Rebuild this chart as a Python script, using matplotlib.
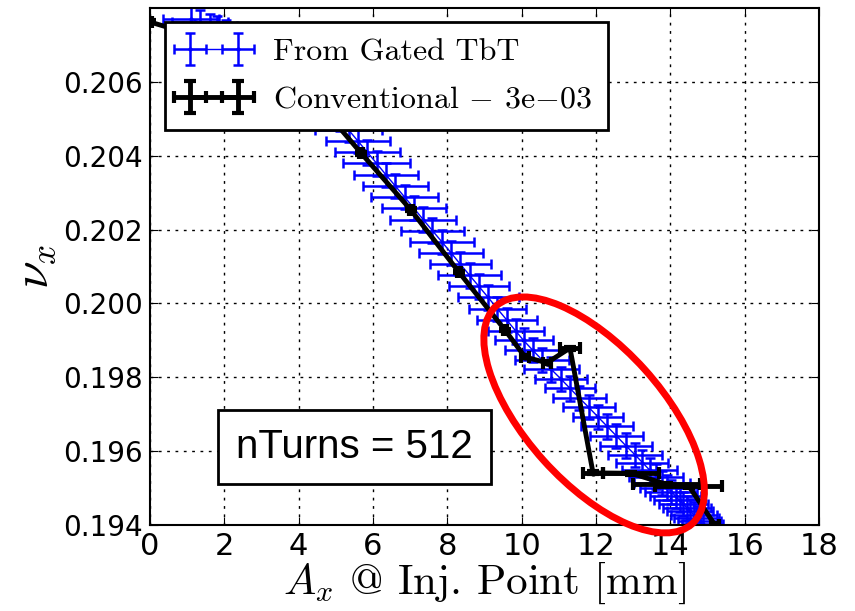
import numpy as np
import matplotlib.pyplot as plt
import matplotlib.transforms as mtransforms
from matplotlib.patches import Ellipse

plt.rcParams['mathtext.fontset'] = 'cm'
plt.rcParams['axes.unicode_minus'] = False

# === Gated TbT tune vs amplitude (blue) ===
gated_x = [1.10, 1.35, 1.62, 1.80, 2.05, 2.30, 2.60, 2.85,
           3.10, 3.35, 3.60, 3.85, 4.10, 4.35, 4.60,
           4.85, 5.10, 5.35, 5.60, 5.85, 6.10, 6.35, 6.60, 6.85, 7.10, 7.35,
           7.60, 7.85, 8.10, 8.35, 8.60, 8.85, 9.10, 9.35, 9.60, 9.85, 10.05,
           10.30, 10.55, 10.80, 11.05, 11.30, 11.55, 11.80, 12.05, 12.30, 12.55,
           12.80, 13.05, 13.25, 13.45, 13.62, 13.78, 13.91,
           14.03, 14.14, 14.25, 14.35, 14.45, 14.54, 14.63, 14.71, 14.79, 14.87]
gated_nu = [0.20770, 0.20761, 0.20751, 0.20744, 0.20735, 0.20726, 0.20715, 0.20706,
            0.20691, 0.20669, 0.20648, 0.20626, 0.20604, 0.20582, 0.20560,
            0.20530, 0.20500, 0.20469, 0.20439, 0.20409, 0.20379, 0.20348, 0.20318, 0.20288, 0.20258, 0.20227,
            0.20197, 0.20167, 0.20137, 0.20106, 0.20076, 0.20046, 0.20016, 0.19985, 0.19955, 0.19924, 0.19900,
            0.19873, 0.19847, 0.19821, 0.19796, 0.19770, 0.19744, 0.19719, 0.19693, 0.19667, 0.19641,
            0.19615, 0.19590, 0.19569, 0.19548, 0.19531, 0.19514, 0.19501,
            0.19490, 0.19478, 0.19467, 0.19457, 0.19446, 0.19437, 0.19428, 0.19419, 0.19411, 0.19403]
gated_xerr = [0.75, 0.75, 0.72, 0.78, 0.75, 0.74, 0.78, 0.80,
              0.82, 0.84, 0.85, 0.84, 0.86, 0.88, 0.86,
              0.90, 0.88, 0.90, 0.86, 0.88, 0.90, 0.86, 0.88, 0.90, 0.86, 0.88,
              0.84, 0.86, 0.85, 0.82, 0.84, 0.80, 0.82, 0.78, 0.80, 0.76, 0.78,
              0.74, 0.72, 0.74, 0.70, 0.68, 0.72, 0.70, 0.68, 0.70, 0.72,
              0.70, 0.72, 0.70, 0.74, 0.72, 0.75, 0.72,
              0.70, 0.68, 0.68, 0.66, 0.65, 0.62, 0.62, 0.60, 0.58, 0.55]
gated_nuerr = 0.00033

# === Conventional tune (black) ===
conv_x = [0.0, 1.4, 2.9, 4.3, 5.68, 7.02, 8.31, 9.55, 10.09, 10.68,
          11.30, 11.92, 12.95, 13.90, 14.50, 15.20]
conv_nu = [0.20762, 0.20720, 0.20660, 0.20570, 0.20407, 0.20253, 0.20085, 0.19928, 0.19855, 0.19839,
           0.19879, 0.19541, 0.19540, 0.19510, 0.19505, 0.19400]
conv_xerr = [0.05, 0.05, 0.05, 0.05, 0.05, 0.05, 0.05, 0.05, 0.10, 0.10,
             0.27, 0.27, 0.75, 0.90, 0.90, 0.10]
conv_nuerr = 0.00004

fig = plt.figure(figsize=(8.55, 6.11), dpi=100)
ax = fig.add_axes([0.1754, 0.1408, 0.7825, 0.8462])

ax.errorbar(gated_x, gated_nu, xerr=gated_xerr, yerr=gated_nuerr, color='blue',
            lw=1, marker='.', ms=4, elinewidth=1.8, capsize=3.5, capthick=1.8,
            label='From Gated TbT', zorder=2)
ax.errorbar(conv_x, conv_nu, xerr=conv_xerr, yerr=conv_nuerr, color='black',
            lw=3.5, marker='.', ms=7, elinewidth=3.5, capsize=4, capthick=3,
            label=r'Conventional $-$ 3e$-$03', zorder=3)

ax.set_xlim(0, 18)
ax.set_ylim(0.194, 0.208)
ax.set_xticks(np.arange(0, 19, 2))
ax.set_yticks([0.194, 0.196, 0.198, 0.200, 0.202, 0.204, 0.206])
ax.set_yticklabels(['0.194', '0.196', '0.198', '0.200', '0.202', '0.204', '0.206'])
ax.tick_params(axis='x', labelsize=22, direction='in', length=6, top=True, pad=5)
ax.tick_params(axis='y', labelsize=20, direction='in', length=6, right=True, pad=5)
ax.grid(True, color='black', linestyle=(0, (2, 4)), lw=1)
for s in ax.spines.values():
    s.set_linewidth(1.5)

ax.set_xlabel(r'$A_x$ @ Inj. Point [mm]', fontfamily='cmr10', fontsize=31, labelpad=0)
ax.set_ylabel(r'$\nu_x$', fontsize=36, labelpad=4)

leg = ax.legend(loc='upper left', bbox_to_anchor=(0.022, 0.973), borderaxespad=0,
                numpoints=2, prop={'family': 'cmr10', 'size': 23},
                fancybox=False, framealpha=1, edgecolor='black',
                handlelength=2.1, handletextpad=0.8, borderpad=0.5, labelspacing=0.6)
leg.get_frame().set_linewidth(2)
leg.set_zorder(10)

# === Annotations ===
ax.text(0.305, 0.151, 'nTurns = 512', transform=ax.transAxes, ha='center', va='center',
        fontsize=29, family=['Liberation Sans Narrow', 'Liberation Sans'],
        bbox=dict(boxstyle='square,pad=0.45', fc='white', ec='black', lw=2), zorder=5)

trans = fig.dpi_scale_trans + mtransforms.ScaledTranslation(11.95, 0.19698, ax.transData)
ax.add_patch(Ellipse((0, 0), 2.93, 1.36, angle=-48, transform=trans, fill=False,
                     ec='red', lw=5, zorder=6, clip_on=False))

fig.savefig('out.png', dpi=100)
